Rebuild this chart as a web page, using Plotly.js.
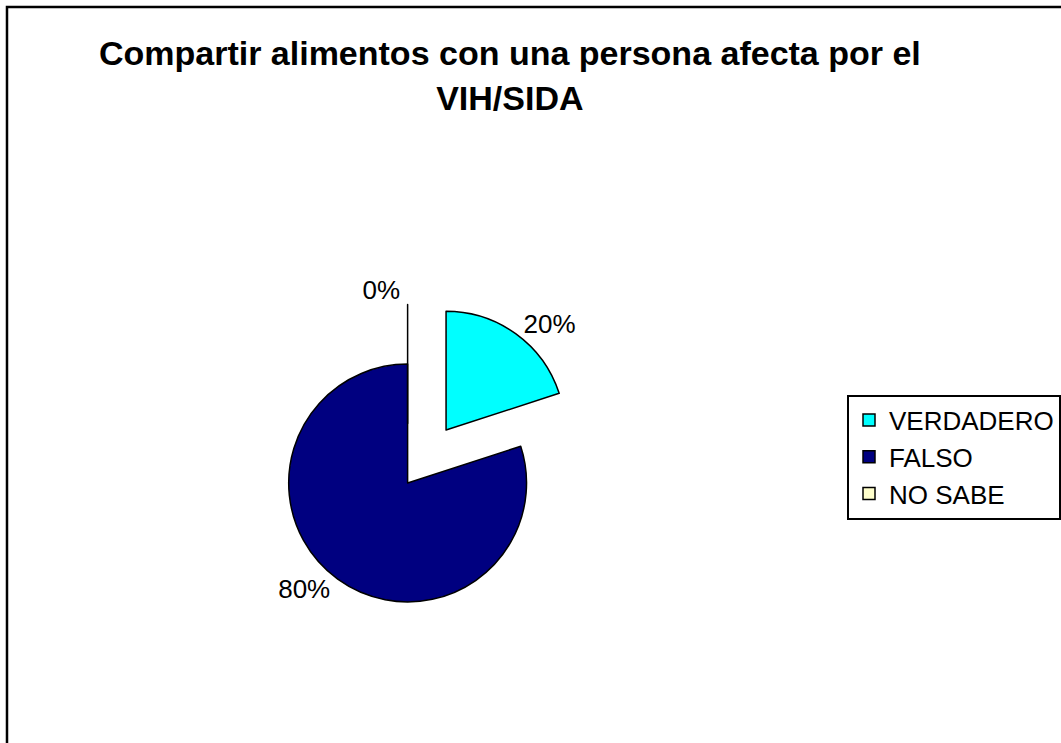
<!DOCTYPE html>
<html>
<head>
<meta charset="utf-8">
<script src="https://cdn.plot.ly/plotly-3.0.1.min.js"></script>
<style>
  html, body { margin: 0; padding: 0; background: #ffffff; }
  #chart { width: 1061px; height: 743px; }
</style>
</head>
<body>
<div id="chart"></div>
<script>
// Data
const categories = ["VERDADERO", "FALSO", "NO SABE"];
const values = [20, 80, 0];
const sliceColors = ["#00FFFF", "#000080", "#FFFFCC"];
const pulls = [0.55, 0, 0.5];
const chartTitle = "Compartir alimentos con una persona afecta por el<br>VIH/SIDA";

const W = 1061, H = 743;
// pie center and size (pixels in the figure)
const cx = 408, cy = 483, side = 369;

const trace = {
  type: "pie",
  labels: categories,
  values: values,
  sort: false,
  direction: "clockwise",
  rotation: 0,
  pull: pulls,
  marker: { colors: sliceColors, line: { color: "#000000", width: 1.5 } },
  textinfo: "percent",
  textposition: "outside",
  outsidetextfont: { family: "Liberation Sans, Arial, sans-serif", size: 26, color: "#000000" },
  showlegend: true,
  domain: {
    x: [(cx - side / 2) / W, (cx + side / 2) / W],
    y: [(H - cy - side / 2) / H, (H - cy + side / 2) / H]
  },
  hoverinfo: "label+percent"
};

const layout = {
  width: W,
  height: H,
  margin: { l: 0, r: 0, t: 0, b: 0, pad: 0 },
  paper_bgcolor: "#ffffff",
  plot_bgcolor: "#ffffff",
  title: {
    text: chartTitle,
    font: { family: "Liberation Sans, Arial, sans-serif", size: 34, color: "#000000", weight: "bold" },
    x: 0.481,
    xanchor: "center",
    xref: "paper",
    y: 0.912,
    yanchor: "top",
    yref: "container"
  },
  legend: {
    x: 848 / W,
    xanchor: "left",
    y: 1 - 457 / H,
    yanchor: "middle",
    bgcolor: "#ffffff",
    bordercolor: "#000000",
    borderwidth: 2,
    font: { family: "Liberation Sans, Arial, sans-serif", size: 26, color: "#000000" }
  },
  shapes: [
    {
      type: "rect",
      xref: "paper", yref: "paper",
      x0: 7 / W, x1: 1.02,
      y0: -0.02, y1: 1 - 7 / H,
      line: { color: "#000000", width: 2.5 },
      fillcolor: "rgba(0,0,0,0)",
      layer: "above"
    }
  ]
};

Plotly.newPlot("chart", [trace], layout, { displayModeBar: false, responsive: false });
</script>
</body>
</html>
